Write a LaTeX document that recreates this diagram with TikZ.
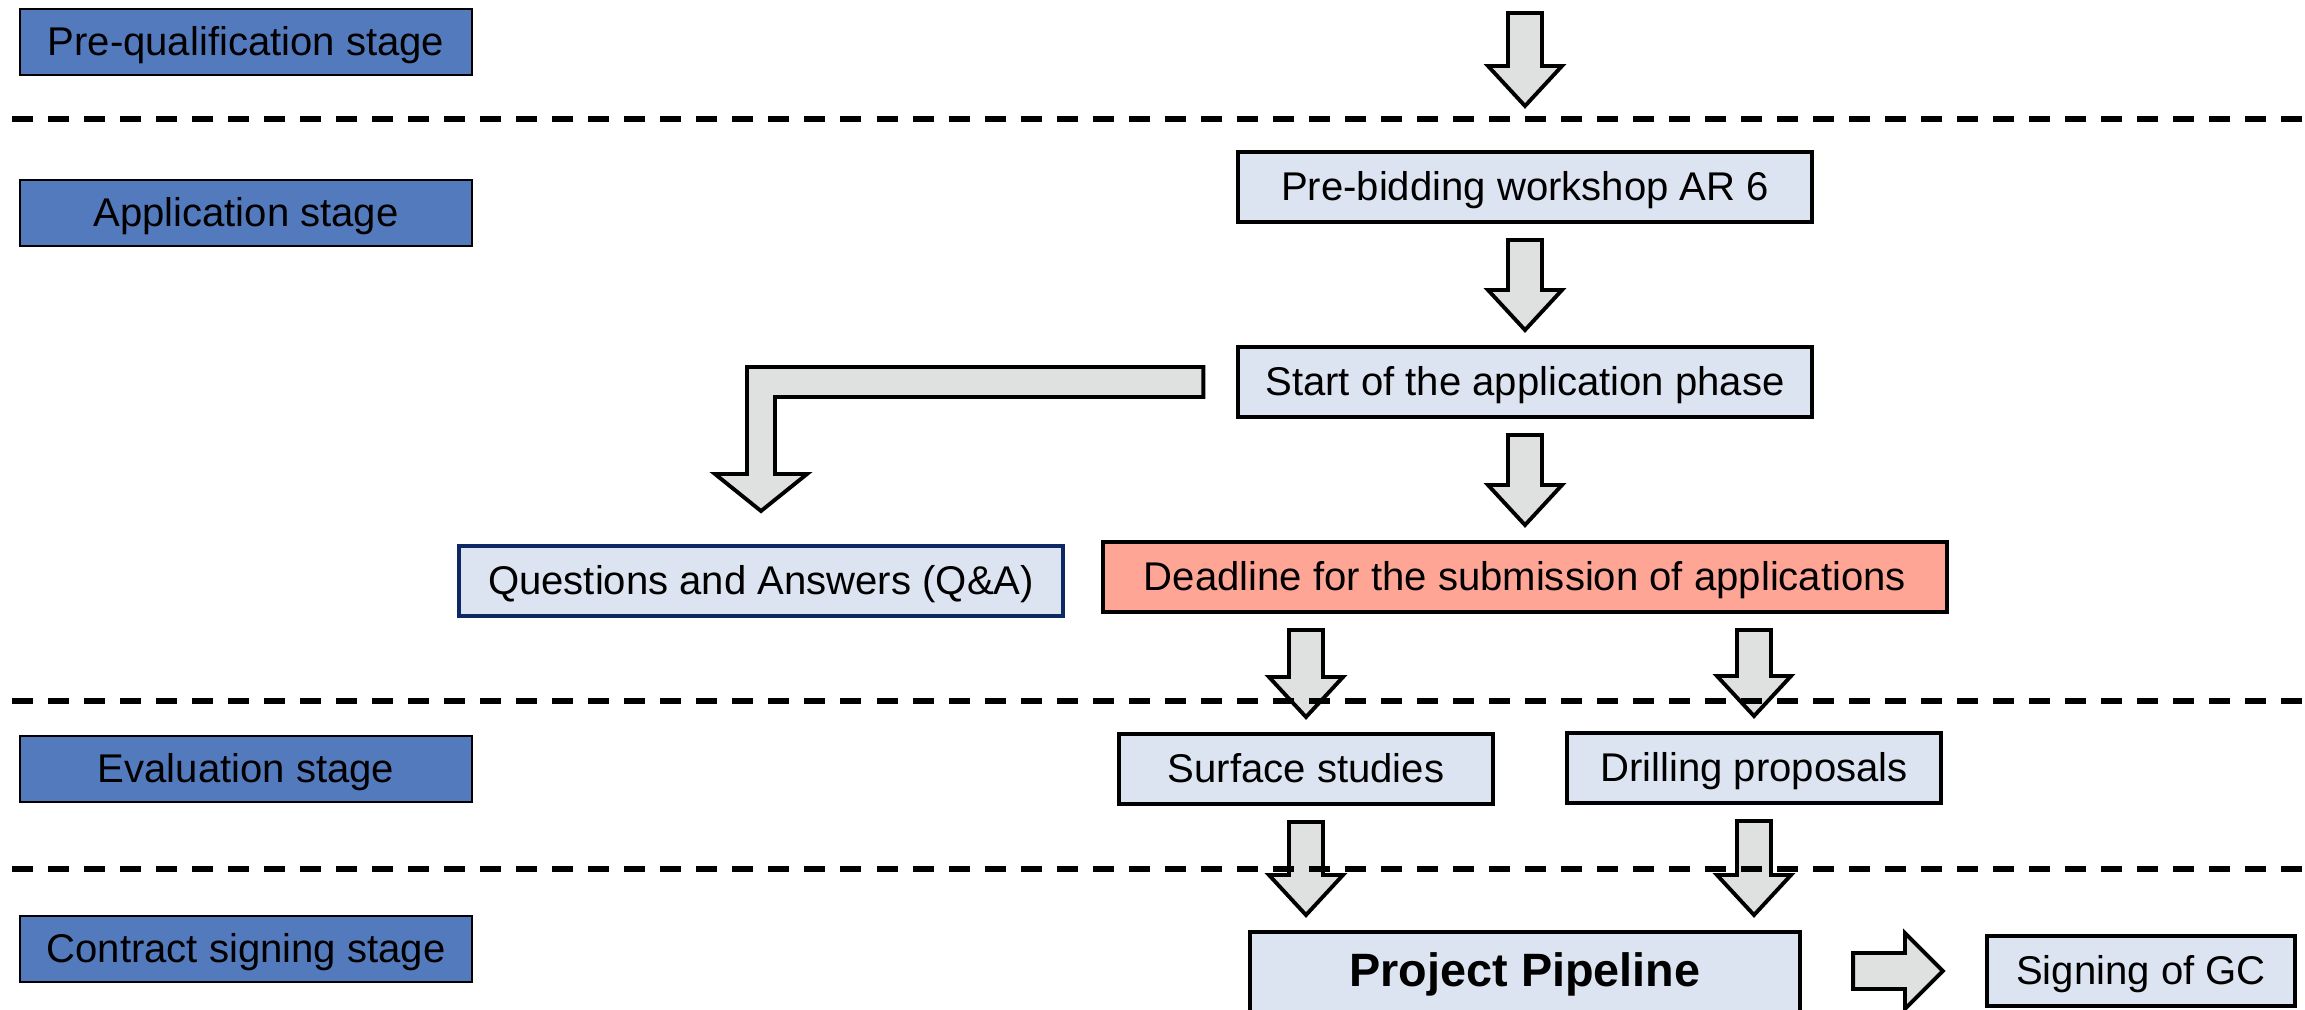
\documentclass[tikz,border=0pt]{standalone}
\usepackage{fontspec}
\setmainfont{Liberation Sans}
\usetikzlibrary{calc}

\definecolor{stageblue}{RGB}{84,122,190}
\definecolor{phasefill}{RGB}{221,228,241}
\definecolor{deadlinefill}{RGB}{255,165,150}
\definecolor{qaborder}{RGB}{14,40,100}
\definecolor{arrowgray}{RGB}{223,225,224}

\tikzset{
	stage/.style={draw=black, line width=0.6pt, fill=stageblue, minimum width=4.51cm, minimum height=0.66cm, inner sep=0pt, text height=10.3pt, text depth=2.4pt, font=\fontsize{11.4}{13}\selectfont},
	phase/.style={draw=black, line width=1.1pt, fill=phasefill, minimum height=0.70cm, inner sep=0pt, text height=10.3pt, text depth=2.4pt, font=\fontsize{11.4}{13}\selectfont},
	divider/.style={line width=1.8pt, dash pattern=on 0.21cm off 0.15cm},
	fatbody/.style={draw=black, line width=1.1pt, fill=arrowgray, line join=miter},
	fatdown/.style={fatbody, to path={let \p1=(\tikztostart), \p2=(\tikztotarget) in
		(\x2-0.17cm,\y1-0.16cm) -- (\x2+0.17cm,\y1-0.16cm) -- (\x2+0.17cm,\y2+0.55cm) -- (\x2+0.37cm,\y2+0.55cm)
		-- (\x2,\y2+0.15cm) -- (\x2-0.37cm,\y2+0.55cm) -- (\x2-0.17cm,\y2+0.55cm) -- cycle}}
}

\begin{document}
\begin{tikzpicture}[x=0.01cm, y=-0.01cm]
	\useasboundingbox (0,0) rectangle (2305,1010);

	\node[stage] (pre) at (246,42) {Pre-qualification stage};
	\node[stage] (app) at (246,213) {Application stage};
	\node[stage] (eval) at (246,769) {Evaluation stage};
	\node[stage] (sign) at (246,949) {Contract signing stage\hspace{0.1cm}};

	\node[phase, minimum width=5.73cm] (prebid) at (1525,187) {Pre-bidding workshop AR 6};
	\node[phase, minimum width=5.73cm] (start) at (1525,382) {Start of the application phase};
	\node[phase, minimum width=6.04cm, draw=qaborder] (qa) at (761,581) {Questions and Answers (Q\&A)};
	\node[phase, minimum width=8.44cm, fill=deadlinefill] (deadline) at (1525,577) {Deadline for the submission of applications};
	\node[phase, minimum width=3.73cm] (surface) at (1306,769) {Surface studies};
	\node[phase, minimum width=3.74cm] (drilling) at (1754,768) {Drilling proposals};
	\node[phase, minimum width=5.5cm, minimum height=0.84cm, text height=9.7pt, text depth=2.8pt, font=\bfseries\fontsize{13.3}{16}\selectfont] (pipeline) at (1525,974) {Project Pipeline};
	\node[phase, minimum width=3.08cm] (gc) at (2141,971) {Signing of GC};

	\coordinate (entry) at (1525,-3);
	\coordinate (entryend) at (1525,121);
	\draw[fatdown] (entry) to (entryend);
	\draw[fatdown] (prebid.south) to (start.north);
	\draw[fatdown] (start.south) to (deadline.north);
	\draw[fatdown] (deadline.south) to (surface.north);
	\draw[fatdown] (deadline.south) to (drilling.north);
	\draw[fatdown] (surface.south) to (pipeline.north -| surface);
	\draw[fatdown] (drilling.south) to (pipeline.north -| drilling);

	\draw[fatbody] let \p1=(start.west), \p2=(qa.north) in
		(\x1-0.33cm,\y1+0.15cm) -- (\x2-0.14cm,\y1+0.15cm) -- (\x2-0.14cm,\y2+0.70cm) -- (\x2-0.46cm,\y2+0.70cm)
		-- (\x2,\y2+0.33cm) -- (\x2+0.46cm,\y2+0.70cm) -- (\x2+0.14cm,\y2+0.70cm) -- (\x2+0.14cm,\y1-0.15cm)
		-- (\x1-0.33cm,\y1-0.15cm) -- cycle;
	\draw[fatbody] let \p1=(pipeline.east), \p2=(gc.west) in
		(\x1+0.51cm,\y2+0.18cm) -- (\x2-0.80cm,\y2+0.18cm) -- (\x2-0.80cm,\y2+0.38cm) -- (\x2-0.42cm,\y2)
		-- (\x2-0.80cm,\y2-0.38cm) -- (\x2-0.80cm,\y2-0.18cm) -- (\x1+0.51cm,\y2-0.18cm) -- cycle;

	\foreach \y in {119,701,869} {
		\draw[divider] (12,\y) -- (2305,\y);
	}
\end{tikzpicture}
\end{document}
